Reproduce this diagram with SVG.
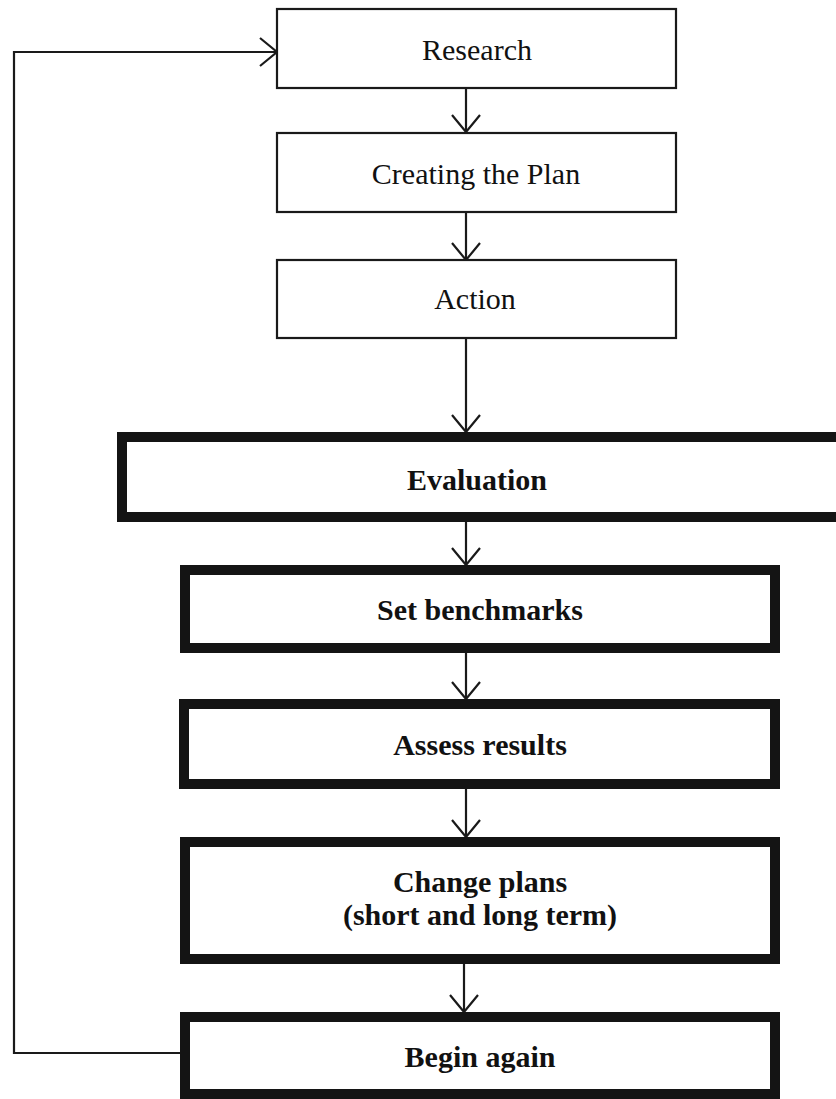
<svg xmlns="http://www.w3.org/2000/svg" width="836" height="1099" viewBox="0 0 836 1099">
  <defs>
    <marker id="open-arrow" viewBox="0 0 20 30" markerWidth="20" markerHeight="30" refX="18" refY="15" orient="auto" markerUnits="userSpaceOnUse">
      <path d="M1,1 L18,15 L1,29" fill="none" stroke="#1a1a1a" stroke-width="2.2"/>
    </marker>
    <style>
      .thin { fill: #ffffff; stroke: #1a1a1a; stroke-width: 2.2; }
      .thick { fill: #ffffff; stroke: #141414; stroke-width: 10; }
      .label { font-family: "Liberation Serif", "Times New Roman", serif; font-size: 30px; fill: #111111; text-anchor: middle; }
      .bold { font-family: "Liberation Serif", "Times New Roman", serif; font-size: 30px; font-weight: bold; fill: #111111; text-anchor: middle; }
      .conn { fill: none; stroke: #1a1a1a; stroke-width: 2.2; }
    </style>
  </defs>
  <rect width="836" height="1099" fill="#ffffff"/>

  <!-- connectors -->
  <g id="connectors">
    <line class="conn" x1="466" y1="88" x2="466" y2="132" marker-end="url(#open-arrow)"/>
    <line class="conn" x1="466" y1="212" x2="466" y2="260" marker-end="url(#open-arrow)"/>
    <line class="conn" x1="466" y1="338" x2="466" y2="432" marker-end="url(#open-arrow)"/>
    <line class="conn" x1="466" y1="522" x2="466" y2="565" marker-end="url(#open-arrow)"/>
    <line class="conn" x1="466" y1="653" x2="466" y2="699" marker-end="url(#open-arrow)"/>
    <line class="conn" x1="466" y1="789" x2="466" y2="837" marker-end="url(#open-arrow)"/>
    <line class="conn" x1="464" y1="964" x2="464" y2="1012" marker-end="url(#open-arrow)"/>
    <polyline class="conn" points="180,1053 14,1053 14,52 277,52" marker-end="url(#open-arrow)"/>
  </g>

  <g id="research">
    <rect class="thin" x="277" y="9" width="399" height="79"/>
    <text class="label" x="477" y="60">Research</text>
  </g>

  <g id="creating-plan">
    <rect class="thin" x="277" y="133" width="399" height="79"/>
    <text class="label" x="476" y="184">Creating the Plan</text>
  </g>

  <g id="action">
    <rect class="thin" x="277" y="260" width="399" height="78"/>
    <text class="label" x="475" y="309">Action</text>
  </g>

  <g id="evaluation">
    <rect class="thick" x="122" y="437" width="740" height="80"/>
    <text class="bold" x="477" y="490">Evaluation</text>
  </g>

  <g id="set-benchmarks">
    <rect class="thick" x="185" y="570" width="590" height="78"/>
    <text class="bold" x="480" y="620">Set benchmarks</text>
  </g>

  <g id="assess-results">
    <rect class="thick" x="184" y="704" width="591" height="80"/>
    <text class="bold" x="480" y="755">Assess results</text>
  </g>

  <g id="change-plans">
    <rect class="thick" x="185" y="842" width="590" height="117"/>
    <text class="bold" x="480" y="892">Change plans</text>
    <text class="bold" x="480" y="925">(short and long term)</text>
  </g>

  <g id="begin-again">
    <rect class="thick" x="185" y="1017" width="590" height="77"/>
    <text class="bold" x="480" y="1067">Begin again</text>
  </g>
</svg>
